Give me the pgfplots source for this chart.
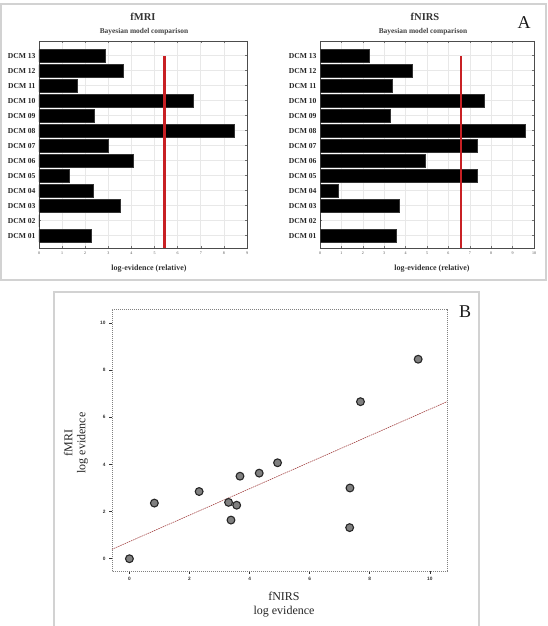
\documentclass[border=0pt]{standalone}
\usepackage{fontspec}
\setmainfont{Liberation Serif}
\setsansfont{Liberation Sans}
\usepackage{pgfplots}
\pgfplotsset{compat=1.18}
\usepackage{pgfplotstable}

% Relative log-evidence of each DCM for the two modalities
\pgfplotstableread{
idx fmri fnirs
1   2.27 3.57
2   0.00 0.00
3   3.50 3.68
4   2.36 0.83
5   1.32 7.33
6   4.07 4.93
7   3.00 7.34
8   8.46 9.61
9   2.39 3.30
10  6.66 7.69
11  1.64 3.38
12  3.63 4.32
13  2.85 2.32
}\dcmtable

\definecolor{bmcred}{RGB}{200,32,36}
\definecolor{fitred}{RGB}{165,70,70}
\definecolor{dotgray}{RGB}{128,128,128}

\pgfplotsset{
  bmc/.style={
    scale only axis, height=207pt,
    ymin=0.18, ymax=13.98,
    ytick={1,...,13},
    yticklabels={DCM 01,DCM 02,DCM 03,DCM 04,DCM 05,DCM 06,DCM 07,DCM 08,DCM 09,DCM 10,DCM 11,DCM 12,DCM 13},
    yticklabel style={font=\fontsize{7.6}{8}\selectfont\bfseries, text=black!85},
    xticklabel style={font=\fontsize{4}{4}\selectfont, text=black!70},
    /pgf/number format/assume math mode=true,
    xmajorgrids, ymajorgrids,
    grid style={gray!18, line width=0.6pt},
    tick align=inside, major tick length=2pt,
    tick style={black!55, line width=0.5pt},
    axis line style={black!70, line width=0.8pt},
    clip=false,
  },
  bmcbar/.style={xbar, bar width=12.3pt, fill=black, draw=black!80},
}

\begin{document}
\begin{tikzpicture}[x=1pt, y=1pt]
\useasboundingbox[fill=white] (0,0) rectangle (547,626);

% panel frames
\draw[gray!35, line width=1.2pt] (1,346) rectangle (546,622);
\draw[gray!35, line width=1.2pt] (54,-2) -- (54,334) -- (479,334) -- (479,-2);

% fMRI model comparison
\begin{axis}[bmc, width=208pt, at={(39pt,378pt)}, anchor=south west,
  xmin=0, xmax=9, xtick={0,...,9}]
  \addplot[bmcbar] table[x=fmri, y=idx] {\dcmtable};
  \addplot[bmcred, line width=2.6pt] coordinates {(5.44,0.18) (5.44,13)};
\end{axis}

% fNIRS model comparison
\begin{axis}[bmc, width=214pt, at={(320pt,378pt)}, anchor=south west,
  xmin=0, xmax=10, xtick={0,...,10}]
  \addplot[bmcbar] table[x=fnirs, y=idx] {\dcmtable};
  \addplot[bmcred, line width=2.6pt] coordinates {(6.58,0.18) (6.58,13)};
\end{axis}

\node[font=\fontsize{10.5}{11}\selectfont\bfseries, text=black!80] at (143,609) {fMRI};
\node[font=\fontsize{7.4}{8}\selectfont\bfseries, text=black!75] at (144,594) {Bayesian model comparison};
\node[font=\fontsize{8}{9}\selectfont\bfseries, text=black!80] at (149,357) {log-evidence (relative)};

\node[font=\fontsize{10.5}{11}\selectfont\bfseries, text=black!80] at (425,609) {fNIRS};
\node[font=\fontsize{7.4}{8}\selectfont\bfseries, text=black!75] at (423,594) {Bayesian model comparison};
\node[font=\fontsize{8}{9}\selectfont\bfseries, text=black!80] at (432,357) {log-evidence (relative)};

\node[font=\fontsize{18}{18}\selectfont, text=black!90] at (524,603) {A};
\node[font=\fontsize{18}{18}\selectfont, text=black!90] at (465,314) {B};

% fNIRS vs fMRI log evidence
\begin{axis}[scale only axis, width=335pt, height=262pt,
  at={(112pt,55pt)}, anchor=south west,
  xmin=-0.58, xmax=10.57, ymin=-0.52, ymax=10.59,
  xtick={0,2,...,10}, ytick={0,2,...,10},
  tick align=outside, xtick pos=left, ytick pos=left,
  major tick length=3pt,
  axis line style={gray, dash pattern=on 1.2pt off 0.8pt, line width=0.7pt},
  tick style={solid, black!80, line width=0.6pt},
  ticklabel style={font=\fontsize{4.8}{5}\sffamily\bfseries, text=black!80},
  /pgf/number format/assume math mode=true,
  clip=false]
  \addplot[fitred, dash pattern=on 1.5pt off 0.8pt, line width=0.6pt] coordinates {(-0.58,0.40) (10.57,6.66)};
  \addplot[only marks, mark=*, mark size=3.9pt,
    mark options={fill=dotgray, draw=black!85, line width=1.1pt}]
    table[x=fnirs, y=fmri] {\dcmtable};
\end{axis}

\node[rotate=90, align=center, font=\fontsize{12}{13}\selectfont, text=black!85] at (76,183) {fMRI\\log evidence};
\node[align=center, font=\fontsize{12}{14}\selectfont, text=black!85] at (284,21) {fNIRS\\log evidence};
\end{tikzpicture}
\end{document}
